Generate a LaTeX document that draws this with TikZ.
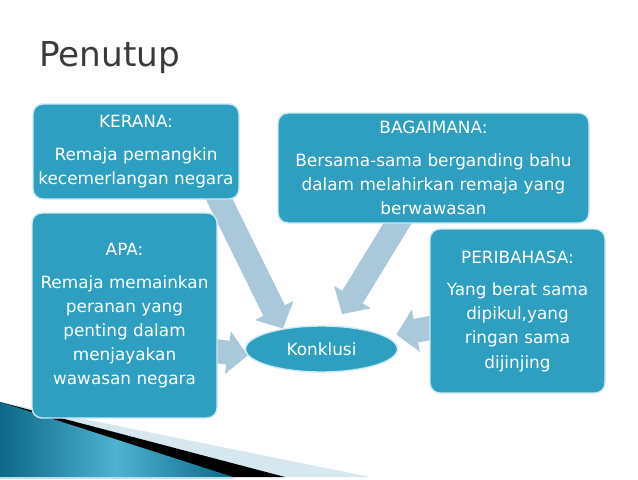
\documentclass[tikz,border=0pt]{standalone}
\usepackage{fontspec}
\setmainfont{DejaVu Sans}
\usetikzlibrary{arrows.meta,shapes.geometric}
\pgfdeclarelayer{background}
\pgfsetlayers{background,main}
\definecolor{teal1}{RGB}{46,159,192}
\definecolor{edge1}{RGB}{205,233,242}
\definecolor{arw1}{RGB}{169,201,219}
\definecolor{title1}{RGB}{58,58,58}
\definecolor{deep1}{RGB}{12,104,134}
\definecolor{pale1}{RGB}{78,178,210}
\definecolor{mist1}{RGB}{214,231,239}
\tikzset{
  box/.style={draw=edge1, line width=0.8pt, fill=teal1, rounded corners=0.2cm, text=white, align=center, inner sep=0pt, font=\fontsize{9.6}{13.66}\selectfont},
  arw/.style={draw=arw1, line width=0.48cm, -{Triangle[width=0.84cm,length=0.4cm]}, shorten <=-0.3cm},
}
\begin{document}
\begin{tikzpicture}

\useasboundingbox (0,0) rectangle (12.76,-9.58);

\fill[mist1] (0,-8.04) -- (7.40,-9.54) -- (0,-9.54) -- cycle;
\fill[black] (0,-8.04) -- (5.70,-9.54) -- (0,-9.54) -- cycle;
\shade[left color=deep1, right color=deep1, middle color=pale1] (0,-8.04) -- (4.66,-9.54) -- (0,-9.54) -- cycle;
\fill[pale1!40] (0,-9.54) rectangle (4.66,-9.58);

\node (title) at (0.78,-1.32) [anchor=base west, inner sep=0pt, text=title1, font=\fontsize{19.5}{23}\selectfont] {Penutup};

\node (kerana) at (2.72,-3.03) [box, minimum width=4.12cm, minimum height=1.90cm] {KERANA:\\[5.1pt]Remaja pemangkin\\kecemerlangan negara};
\node (bagaimana) at (8.67,-3.36) [box, minimum width=6.22cm, minimum height=2.20cm] {BAGAIMANA:\\[5.1pt]Bersama-sama berganding bahu\\dalam melahirkan remaja yang\\berwawasan};
\node (apa) at (2.49,-6.31) [box, minimum width=3.70cm, minimum height=4.10cm] {APA:\\[5.1pt]Remaja memainkan\\peranan yang\\penting dalam\\menjayakan\\wawasan negara};
\node (peribahasa) at (10.35,-6.22) [box, minimum width=3.50cm, minimum height=3.28cm] {PERIBAHASA:\\[5.1pt]Yang berat sama\\dipikul,yang\\ringan sama\\dijinjing};
\node (konklusi) at (6.43,-6.98) [box, ellipse, sharp corners, minimum width=3.04cm, minimum height=0.92cm] {Konklusi};

\begin{pgfonlayer}{background}
\draw [arw] (kerana.-30) -- (konklusi.152);
\draw [arw, shorten >=0.27cm] (bagaimana.237.5) -- (konklusi.60);
\draw [arw, shorten >=0.2cm] (peribahasa.191) -- (konklusi.11);
\draw [arw] (apa.-21) -- (konklusi.185);
\end{pgfonlayer}

\end{tikzpicture}
\end{document}
